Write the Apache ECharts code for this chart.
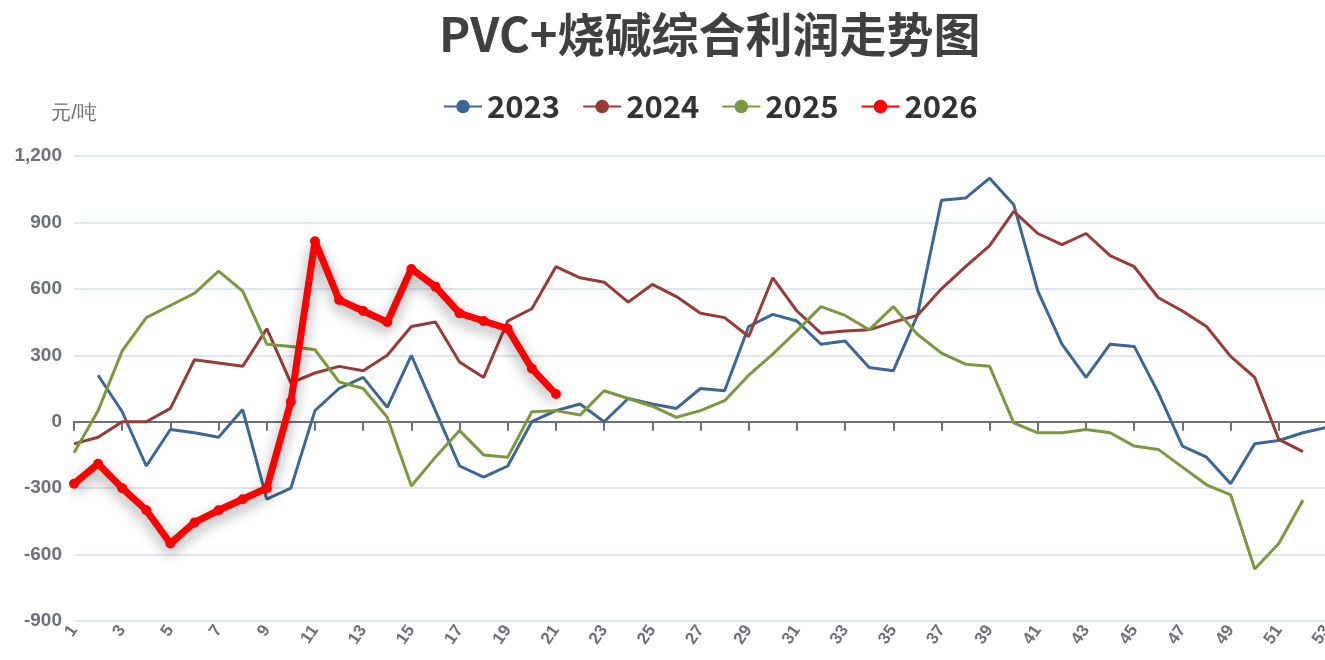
<!DOCTYPE html>
<html>
<head>
<meta charset="utf-8">
<title>PVC+烧碱综合利润走势图</title>
<script src="https://cdn.jsdelivr.net/npm/echarts@6/dist/echarts.min.js"></script>
<style>
  html, body { margin: 0; padding: 0; background: #fff; }
  #main { width: 1325px; height: 660px; }
</style>
</head>
<body>
<div id="main"></div>
<script>
// 周度
var weeks = ['1','2','3','4','5','6','7','8','9','10','11','12','13','14','15','16','17','18','19','20',
  '21','22','23','24','25','26','27','28','29','30','31','32','33','34','35','36','37','38','39','40',
  '41','42','43','44','45','46','47','48','49','50','51','52','53'];
var years = ['2023', '2024', '2025', '2026'];
var colors = ['#3c6695', '#983b38', '#7a983e', '#ff0000'];

var y2023 = [null, 210, 45, -200, -35, -50, -70, 55, -350, -300, 50, 150, 200, 65, 300, 50, -200, -250, -200, 0,
  50, 80, 0, 105, 80, 60, 150, 140, 430, 485, 455, 350, 365, 245, 230, 480, 1000, 1010, 1100, 980,
  590, 350, 200, 350, 340, 130, -110, -160, -280, -100, -85, -50, -25];
var y2024 = [-100, -70, 0, 0, 60, 280, 265, 250, 420, 175, 220, 250, 230, 300, 430, 450, 270, 200, 455, 510,
  700, 650, 630, 540, 620, 565, 490, 470, 385, 650, 500, 400, 410, 415, 450, 480, 600, 700, 795, 950,
  850, 800, 850, 750, 700, 560, 500, 430, 295, 200, -80, -135];
var y2025 = [-140, 50, 320, 470, 525, 580, 680, 590, 350, 340, 325, 180, 150, 20, -290, -160, -40, -150, -160, 45,
  50, 30, 140, 105, 70, 20, 50, 95, 210, 305, 410, 520, 480, 415, 520, 395, 310, 260, 250, -5,
  -50, -50, -35, -50, -110, -125, -205, -285, -330, -665, -550, -355];
var y2026 = [-280, -190, -300, -400, -550, -455, -400, -350, -300, 90, 815, 550, 500, 450, 690, 610, 490, 455, 420, 240, 125];

var yTicks = { min: -900, max: 1200, step: 300 };

var myChart = echarts.init(document.getElementById('main'));

function thinLine(name, data, color) {
  return {
    name: name,
    type: 'line',
    data: data,
    symbol: 'circle',
    showSymbol: false,
    itemStyle: { color: color },
    lineStyle: { width: 3, color: color },
    z: 2
  };
}

myChart.setOption({
  animation: false,
  color: colors,
  title: {
    text: 'PVC+烧碱综合利润走势图',
    left: 434,
    top: 6,
    textStyle: {
      fontFamily: 'Noto Sans CJK SC',
      fontSize: 47,
      fontWeight: 'bold',
      color: '#404040'
    }
  },
  legend: {
    data: years,
    left: 438,
    top: 86,
    itemWidth: 38,
    itemHeight: 17,
    itemGap: 22,
    textStyle: {
      fontFamily: 'Noto Sans CJK SC',
      fontSize: 31,
      fontWeight: 'bold',
      color: '#333'
    }
  },
  grid: {
    left: 74,
    top: 156,
    width: 1253,
    bottom: 39,
    outerBoundsMode: 'none',
    containLabel: false
  },
  xAxis: [
    {
      // 零轴线 + 刻度（标签透明，只用来让刻度隔一周）
      type: 'category',
      data: weeks,
      boundaryGap: false,
      axisLine: { onZero: true, lineStyle: { color: '#6e7079', width: 2 } },
      axisTick: { show: true, length: 9, lineStyle: { color: '#6e7079', width: 2 } },
      axisLabel: { show: true, interval: 1, color: 'rgba(0,0,0,0)', fontSize: 10 },
      splitLine: { show: false }
    },
    {
      type: 'category',
      data: weeks,
      boundaryGap: false,
      position: 'bottom',
      axisLine: { show: false, onZero: false },
      axisTick: { show: false },
      splitLine: { show: false },
      axisLabel: {
        interval: 1,
        rotate: 55,
        margin: 6,
        fontSize: 17,
        fontWeight: 'bold',
        color: '#6e7079'
      }
    }
  ],
  yAxis: {
    type: 'value',
    min: yTicks.min,
    max: yTicks.max,
    interval: yTicks.step,
    name: '元/吨',
    nameGap: 33,
    nameTextStyle: { fontSize: 20, color: '#6e7079', align: 'center' },
    axisLine: { show: false },
    axisTick: { show: false },
    axisLabel: {
      margin: 12,
      fontSize: 19,
      fontWeight: 'bold',
      color: '#6e7079',
      formatter: function (v) { return v.toLocaleString('en-US'); }
    },
    splitLine: { lineStyle: { color: '#e0e6f1', width: 2 } }
  },
  series: [
    thinLine('2023', y2023, colors[0]),
    thinLine('2024', y2024, colors[1]),
    thinLine('2025', y2025, colors[2]),
    {
      name: '2026',
      type: 'line',
      data: y2026,
      symbol: 'circle',
      symbolSize: 10,
      itemStyle: { color: colors[3] },
      lineStyle: {
        width: 7,
        color: colors[3],
        shadowColor: 'rgba(0,0,0,0.4)',
        shadowBlur: 14,
        shadowOffsetY: 6
      },
      z: 5
    }
  ]
});
</script>
</body>
</html>
